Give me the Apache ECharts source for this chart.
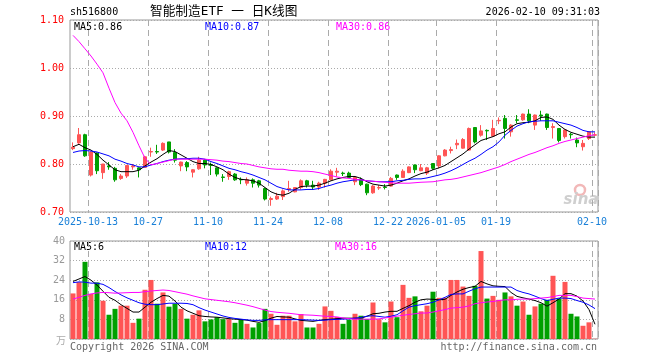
<!DOCTYPE html>
<html><head><meta charset="utf-8">
<script src="https://cdn.jsdelivr.net/npm/echarts@6/dist/echarts.min.js"></script>
<style>html,body{margin:0;padding:0;background:#fff}#c{width:660px;height:360px}</style>
</head><body><div id="c"></div><script>
const dates = ['2025-09-30','2025-10-09','2025-10-10',
'2025-10-13','2025-10-14','2025-10-15','2025-10-16','2025-10-17',
'2025-10-20','2025-10-21','2025-10-22','2025-10-23','2025-10-24',
'2025-10-27','2025-10-28','2025-10-29','2025-10-30','2025-10-31',
'2025-11-03','2025-11-04','2025-11-05','2025-11-06','2025-11-07',
'2025-11-10','2025-11-11','2025-11-12','2025-11-13','2025-11-14',
'2025-11-17','2025-11-18','2025-11-19','2025-11-20','2025-11-21',
'2025-11-24','2025-11-25','2025-11-26','2025-11-27','2025-11-28',
'2025-12-01','2025-12-02','2025-12-03','2025-12-04','2025-12-05',
'2025-12-08','2025-12-09','2025-12-10','2025-12-11','2025-12-12',
'2025-12-15','2025-12-16','2025-12-17','2025-12-18','2025-12-19',
'2025-12-22','2025-12-23','2025-12-24','2025-12-25','2025-12-26',
'2025-12-29','2025-12-30','2025-12-31',
'2026-01-05','2026-01-06','2026-01-07','2026-01-08','2026-01-09',
'2026-01-12','2026-01-13','2026-01-14','2026-01-15','2026-01-16',
'2026-01-19','2026-01-20','2026-01-21','2026-01-22','2026-01-23',
'2026-01-26','2026-01-27','2026-01-28','2026-01-29','2026-01-30',
'2026-02-02','2026-02-03','2026-02-04','2026-02-05','2026-02-06',
'2026-02-09','2026-02-10'];

const tickDates = ['2025-10-13','2025-10-27','2025-11-10','2025-11-24','2025-12-08','2025-12-22','2026-01-05','2026-01-19','2026-02-10'];
const tickTexts = ['2025-10-13','10-27','11-10','11-24','12-08','12-22','2026-01-05','01-19','02-10'];
const priceTicks = [0.70, 0.80, 0.90, 1.00, 1.10];
const volTicks = [8, 16, 24, 32, 40];

const opens = [0.832,0.844,0.861,0.777,0.823,0.782,0.796,0.791,0.770,0.775,0.794,0.792,0.793,0.825,0.826,0.829,0.846,0.824,0.796,0.803,0.783,0.790,0.808,0.799,0.792,0.773,0.774,0.779,0.768,0.760,0.767,0.765,0.749,0.726,0.727,0.732,0.747,0.742,0.751,0.765,0.756,0.752,0.760,0.767,0.783,0.781,0.781,0.763,0.768,0.758,0.740,0.750,0.752,0.754,0.777,0.772,0.782,0.798,0.786,0.781,0.801,0.796,0.817,0.828,0.840,0.833,0.829,0.876,0.860,0.870,0.858,0.890,0.895,0.867,0.892,0.892,0.904,0.881,0.902,0.904,0.876,0.874,0.857,0.862,0.850,0.836,0.853,0.860];
const closes = [0.835,0.861,0.817,0.825,0.786,0.800,0.794,0.767,0.775,0.797,0.796,0.788,0.815,0.826,0.825,0.843,0.825,0.808,0.804,0.794,0.788,0.808,0.798,0.797,0.779,0.772,0.784,0.767,0.767,0.767,0.760,0.756,0.727,0.728,0.733,0.744,0.749,0.751,0.765,0.756,0.752,0.760,0.768,0.785,0.785,0.780,0.772,0.772,0.757,0.740,0.754,0.751,0.751,0.770,0.772,0.785,0.794,0.788,0.792,0.792,0.791,0.817,0.829,0.830,0.843,0.851,0.874,0.846,0.869,0.869,0.874,0.891,0.874,0.881,0.891,0.904,0.890,0.902,0.900,0.876,0.878,0.849,0.871,0.861,0.844,0.843,0.867,0.861];
const lows = [0.829,0.842,0.815,0.774,0.779,0.769,0.788,0.763,0.767,0.771,0.788,0.772,0.792,0.815,0.821,0.827,0.822,0.803,0.785,0.785,0.772,0.788,0.791,0.777,0.774,0.763,0.767,0.765,0.758,0.755,0.751,0.751,0.724,0.713,0.725,0.725,0.742,0.741,0.747,0.751,0.746,0.746,0.751,0.766,0.774,0.775,0.771,0.756,0.754,0.735,0.738,0.746,0.747,0.753,0.767,0.771,0.781,0.781,0.785,0.777,0.788,0.791,0.816,0.822,0.831,0.832,0.828,0.843,0.857,0.850,0.857,0.883,0.853,0.857,0.885,0.890,0.885,0.871,0.890,0.871,0.853,0.845,0.853,0.853,0.835,0.828,0.850,0.858];
const highs = [0.845,0.875,0.863,0.826,0.824,0.800,0.804,0.794,0.779,0.798,0.800,0.793,0.817,0.834,0.840,0.845,0.846,0.831,0.805,0.806,0.789,0.815,0.810,0.803,0.793,0.779,0.786,0.781,0.772,0.772,0.770,0.767,0.751,0.732,0.740,0.747,0.765,0.752,0.768,0.767,0.765,0.763,0.769,0.789,0.792,0.784,0.784,0.773,0.772,0.759,0.756,0.756,0.758,0.773,0.778,0.789,0.795,0.799,0.800,0.794,0.802,0.818,0.831,0.836,0.851,0.854,0.876,0.877,0.881,0.872,0.892,0.897,0.902,0.883,0.902,0.905,0.914,0.903,0.911,0.905,0.885,0.875,0.872,0.865,0.855,0.850,0.868,0.866];

const ma5 = [0.836,0.841,0.834,0.829,0.820,0.808,0.798,0.788,0.784,0.784,0.784,0.787,0.796,0.804,0.811,0.820,0.828,0.826,0.819,0.812,0.805,0.801,0.801,0.799,0.794,0.788,0.779,0.772,0.768,0.767,0.765,0.760,0.751,0.742,0.737,0.735,0.739,0.747,0.753,0.754,0.754,0.756,0.760,0.765,0.769,0.772,0.774,0.774,0.770,0.763,0.758,0.756,0.754,0.756,0.760,0.765,0.769,0.775,0.780,0.783,0.788,0.792,0.797,0.805,0.813,0.821,0.831,0.840,0.849,0.853,0.857,0.863,0.867,0.877,0.884,0.886,0.887,0.890,0.897,0.898,0.893,0.881,0.872,0.866,0.862,0.858,0.856,0.856];
const ma10 = [0.824,0.827,0.828,0.827,0.825,0.821,0.817,0.810,0.806,0.801,0.798,0.794,0.794,0.798,0.801,0.805,0.808,0.810,0.811,0.811,0.812,0.812,0.810,0.805,0.801,0.796,0.791,0.788,0.784,0.781,0.777,0.772,0.767,0.760,0.753,0.749,0.746,0.746,0.746,0.747,0.747,0.749,0.753,0.756,0.760,0.763,0.765,0.767,0.767,0.765,0.764,0.763,0.763,0.763,0.765,0.766,0.768,0.769,0.769,0.771,0.774,0.777,0.781,0.786,0.792,0.799,0.806,0.812,0.820,0.829,0.836,0.846,0.860,0.870,0.879,0.884,0.888,0.889,0.890,0.890,0.890,0.887,0.884,0.881,0.876,0.870,0.867,0.867];
const ma30 = [1.068,1.055,1.040,1.025,1.008,0.990,0.958,0.928,0.906,0.890,0.866,0.838,0.812,0.798,0.801,0.804,0.807,0.810,0.810,0.810,0.810,0.810,0.810,0.809,0.808,0.806,0.805,0.803,0.801,0.800,0.797,0.794,0.792,0.790,0.789,0.789,0.787,0.786,0.785,0.785,0.784,0.782,0.779,0.776,0.773,0.771,0.770,0.768,0.767,0.765,0.764,0.763,0.762,0.761,0.760,0.760,0.760,0.761,0.762,0.7625,0.763,0.765,0.767,0.768,0.770,0.773,0.776,0.779,0.782,0.786,0.790,0.794,0.799,0.805,0.810,0.815,0.820,0.824,0.829,0.834,0.838,0.843,0.847,0.850,0.853,0.856,0.859,0.861];

const volumes = [18.6,23.2,31.5,18.4,23.1,15.6,9.9,12.3,13.6,13.6,6.6,8.3,20.1,24.1,14.4,19.0,13.2,14.4,12.3,8.3,9.9,11.7,7.2,8.0,8.9,8.1,8.1,6.6,8.0,6.2,4.7,6.5,12.3,10.3,5.8,9.5,9.5,7.2,10.2,4.7,4.7,6.2,13.3,11.5,9.0,6.2,7.9,10.3,9.5,8.1,14.9,8.1,6.8,15.3,8.9,22.1,16.8,17.4,11.3,13.6,19.3,16.8,16.8,24.1,24.1,21.4,17.6,21.7,35.9,16.5,17.6,16.0,19.0,17.4,13.6,15.3,9.9,13.3,14.4,16.0,25.8,16.5,23.3,10.3,9.2,5.4,6.8,0.1];
const vma5 = [23.5,24.5,25.5,24.0,22.0,19.5,17.0,15.8,14.0,12.5,11.0,11.0,13.0,15.0,16.5,17.8,17.5,15.5,13.0,11.5,10.5,9.5,9.2,9.0,8.9,8.6,8.3,8.1,7.9,7.7,7.2,6.8,7.5,8.5,9.2,9.0,8.9,8.2,7.6,7.4,7.2,7.6,7.9,8.1,8.3,8.5,8.5,8.5,8.5,9.3,10.3,10.5,11.0,11.3,11.3,12.5,13.6,15.0,16.0,16.3,16.2,16.0,16.2,17.8,19.2,20.3,21.0,21.5,23.5,22.5,21.7,21.5,21.4,19.0,17.4,16.8,16.3,15.7,14.8,13.4,14.8,16.3,18.5,18.5,17.5,15.5,12.0,6.0];
const vma10 = [23.0,23.3,23.2,22.8,22.8,22.3,21.0,19.4,18.0,16.8,15.8,14.8,14.2,14.0,14.0,14.3,14.6,14.6,14.6,14.5,14.0,12.8,11.8,11.0,10.2,9.4,8.8,8.4,8.1,7.8,7.6,7.6,7.8,7.9,7.9,7.9,7.9,7.9,7.9,7.8,7.7,7.6,7.7,7.9,8.0,8.1,8.2,8.5,8.8,9.3,9.5,9.2,8.9,9.3,9.9,11.5,13.0,13.6,14.0,14.4,15.0,16.0,17.0,18.2,18.4,18.4,19.5,20.5,21.2,21.2,21.2,21.2,21.2,21.2,19.8,19.0,18.4,17.5,16.5,15.7,16.2,16.7,16.7,16.5,15.7,15.0,13.9,12.4];
const vma30 = [16.3,17.0,17.8,18.4,18.8,19.0,18.9,18.7,18.8,18.9,19.0,19.0,19.3,19.6,19.8,20.0,19.8,19.3,18.8,18.3,17.6,17.0,16.4,16.1,15.8,15.5,15.2,14.8,14.3,13.8,13.2,12.5,11.8,11.2,10.9,10.7,10.5,10.2,9.9,9.8,9.7,9.5,9.3,9.2,9.0,8.6,8.3,8.1,8.1,8.1,8.1,8.2,8.6,8.9,9.3,9.7,10.0,10.3,10.6,10.6,11.0,11.5,12.0,12.6,12.8,13.0,13.5,14.4,14.8,15.1,15.3,15.7,16.0,16.0,16.2,16.3,16.3,16.5,16.7,16.9,17.3,17.8,17.8,17.8,17.3,16.7,16.5,16.3];

const RED = '#ff5555', GREEN = '#00a000';
const MONO = '"DejaVu Sans Mono", "Liberation Mono", monospace';
const last = dates.length - 1;
const tickMap = {}; tickDates.forEach((d, i) => tickMap[d] = tickTexts[i]);
const isTick = (i, v) => tickMap[v] !== undefined;

const candles = dates.map((d, i) => [opens[i], closes[i], lows[i], highs[i]]);
const volData = volumes.map((v, i) => ({ value: v, itemStyle: { color: closes[i] >= opens[i] ? RED : GREEN } }));

const chart = echarts.init(document.getElementById('c'), null, { renderer: 'canvas' });
const gridLine = { show: true, interval: isTick, lineStyle: { color: '#aaaaaa', type: [6, 4], width: 1 } };
const lineS = (name, data, color, xi, yi) => ({
  name, type: 'line', data, xAxisIndex: xi, yAxisIndex: yi, symbol: 'none', smooth: false,
  lineStyle: { color, width: 1 }, z: 5, silent: true
});

chart.setOption({
  animation: false,
  grid: [
    { left: 70, top: 20, width: 528, height: 192, show: true, borderColor: '#999', borderWidth: 1, backgroundColor: 'transparent' },
    { left: 70, top: 241, width: 528, height: 98, show: true, borderColor: '#999', borderWidth: 1, backgroundColor: 'transparent' }
  ],
  xAxis: [
    { type: 'category', gridIndex: 0, data: dates, boundaryGap: true,
      axisLine: { show: false }, axisTick: { show: false },
      axisLabel: { interval: isTick, formatter: v => tickMap[v] || '', color: '#1a80d8', fontFamily: MONO, fontSize: 10, margin: 5, padding: [0, 6, 0, 0] },
      splitLine: gridLine },
    { type: 'category', gridIndex: 1, data: dates, boundaryGap: true,
      axisLine: { show: false }, axisTick: { show: false }, axisLabel: { show: false },
      splitLine: gridLine }
  ],
  yAxis: [
    { type: 'value', gridIndex: 0, min: priceTicks[0], max: priceTicks[priceTicks.length - 1], interval: 0.1,
      axisLine: { show: false }, axisTick: { show: false },
      axisLabel: { color: '#ff0000', fontFamily: MONO, fontSize: 10, margin: 6, formatter: v => v.toFixed(2) },
      splitLine: { show: true, lineStyle: { color: '#aaaaaa', type: [1, 2], width: 1 } } },
    { type: 'value', gridIndex: 1, min: 0, max: volTicks[volTicks.length - 1], interval: 8,
      axisLine: { show: false }, axisTick: { show: false },
      axisLabel: { color: '#999', fontFamily: MONO, fontSize: 10, margin: 5, formatter: v => v === 0 ? '' : String(v) },
      splitLine: { show: true, lineStyle: { color: '#aaaaaa', type: [1, 2], width: 1 } } }
  ],
  series: [
    { type: 'candlestick', data: candles, xAxisIndex: 0, yAxisIndex: 0, barWidth: 4, silent: true,
      itemStyle: { color: RED, color0: GREEN, borderColor: RED, borderColor0: GREEN, borderWidth: 1 } },
    lineS('MA5', ma5, '#000000', 0, 0),
    lineS('MA10', ma10, '#0000ff', 0, 0),
    lineS('MA30', ma30, '#ff00ff', 0, 0),
    { type: 'bar', data: volData, xAxisIndex: 1, yAxisIndex: 1, barWidth: 5, silent: true },
    lineS('VMA5', vma5, '#000000', 1, 1),
    lineS('VMA10', vma10, '#0000ff', 1, 1),
    lineS('VMA30', vma30, '#ff00ff', 1, 1)
  ],
  graphic: [
    { type: 'text', x: 70, y: 12, style: { text: 'sh516800', font: '10px ' + MONO, fill: '#000', verticalAlign: 'middle' } },
    { type: 'text', x: 150, y: 12, style: { text: '智能制造ETF 一 日K线图', font: '12.7px "DejaVu Sans Mono", "Noto Sans CJK SC"', fill: '#000', verticalAlign: 'middle' } },
    { type: 'text', x: 600, y: 12, style: { text: '2026-02-10 09:31:03', font: '10px ' + MONO, fill: '#000', align: 'right', verticalAlign: 'middle' } },
    { type: 'text', x: 74, y: 27, style: { text: 'MA5:' + ma5[last].toFixed(2), font: '10px ' + MONO, fill: '#000', verticalAlign: 'middle' } },
    { type: 'text', x: 205, y: 27, style: { text: 'MA10:' + ma10[last].toFixed(2), font: '10px ' + MONO, fill: '#0000ff', verticalAlign: 'middle' } },
    { type: 'text', x: 336, y: 27, style: { text: 'MA30:' + ma30[last].toFixed(2), font: '10px ' + MONO, fill: '#ff00ff', verticalAlign: 'middle' } },
    { type: 'text', x: 74, y: 247, style: { text: 'MA5:' + Math.round(vma5[last]), font: '10px ' + MONO, fill: '#000', verticalAlign: 'middle' } },
    { type: 'text', x: 205, y: 247, style: { text: 'MA10:' + Math.round(vma10[last]), font: '10px ' + MONO, fill: '#0000ff', verticalAlign: 'middle' } },
    { type: 'text', x: 335, y: 247, style: { text: 'MA30:' + Math.round(vma30[last]), font: '10px ' + MONO, fill: '#ff00ff', verticalAlign: 'middle' } },
    { type: 'text', x: 66, y: 340, style: { text: '万', font: '10px "Noto Sans CJK SC"', fill: '#aaa', align: 'right', verticalAlign: 'middle' } },
    { type: 'text', x: 70, y: 347, style: { text: 'Copyright 2026 SINA.COM', font: '10px ' + MONO, fill: '#666', verticalAlign: 'middle' } },
    { type: 'text', x: 597, y: 347, style: { text: 'http://finance.sina.com.cn', font: '10px ' + MONO, fill: '#666', align: 'right', verticalAlign: 'middle' } },
    { type: 'circle', shape: { cx: 580, cy: 190, r: 5 }, style: { fill: 'none', stroke: '#f2b8b8', lineWidth: 2.5 } },
    { type: 'text', x: 581, y: 200, style: { text: 'sina', font: 'italic bold 15px "DejaVu Sans"', fill: '#cfcfcf', align: 'center', verticalAlign: 'middle' } }
  ]
});
</script></body></html>
